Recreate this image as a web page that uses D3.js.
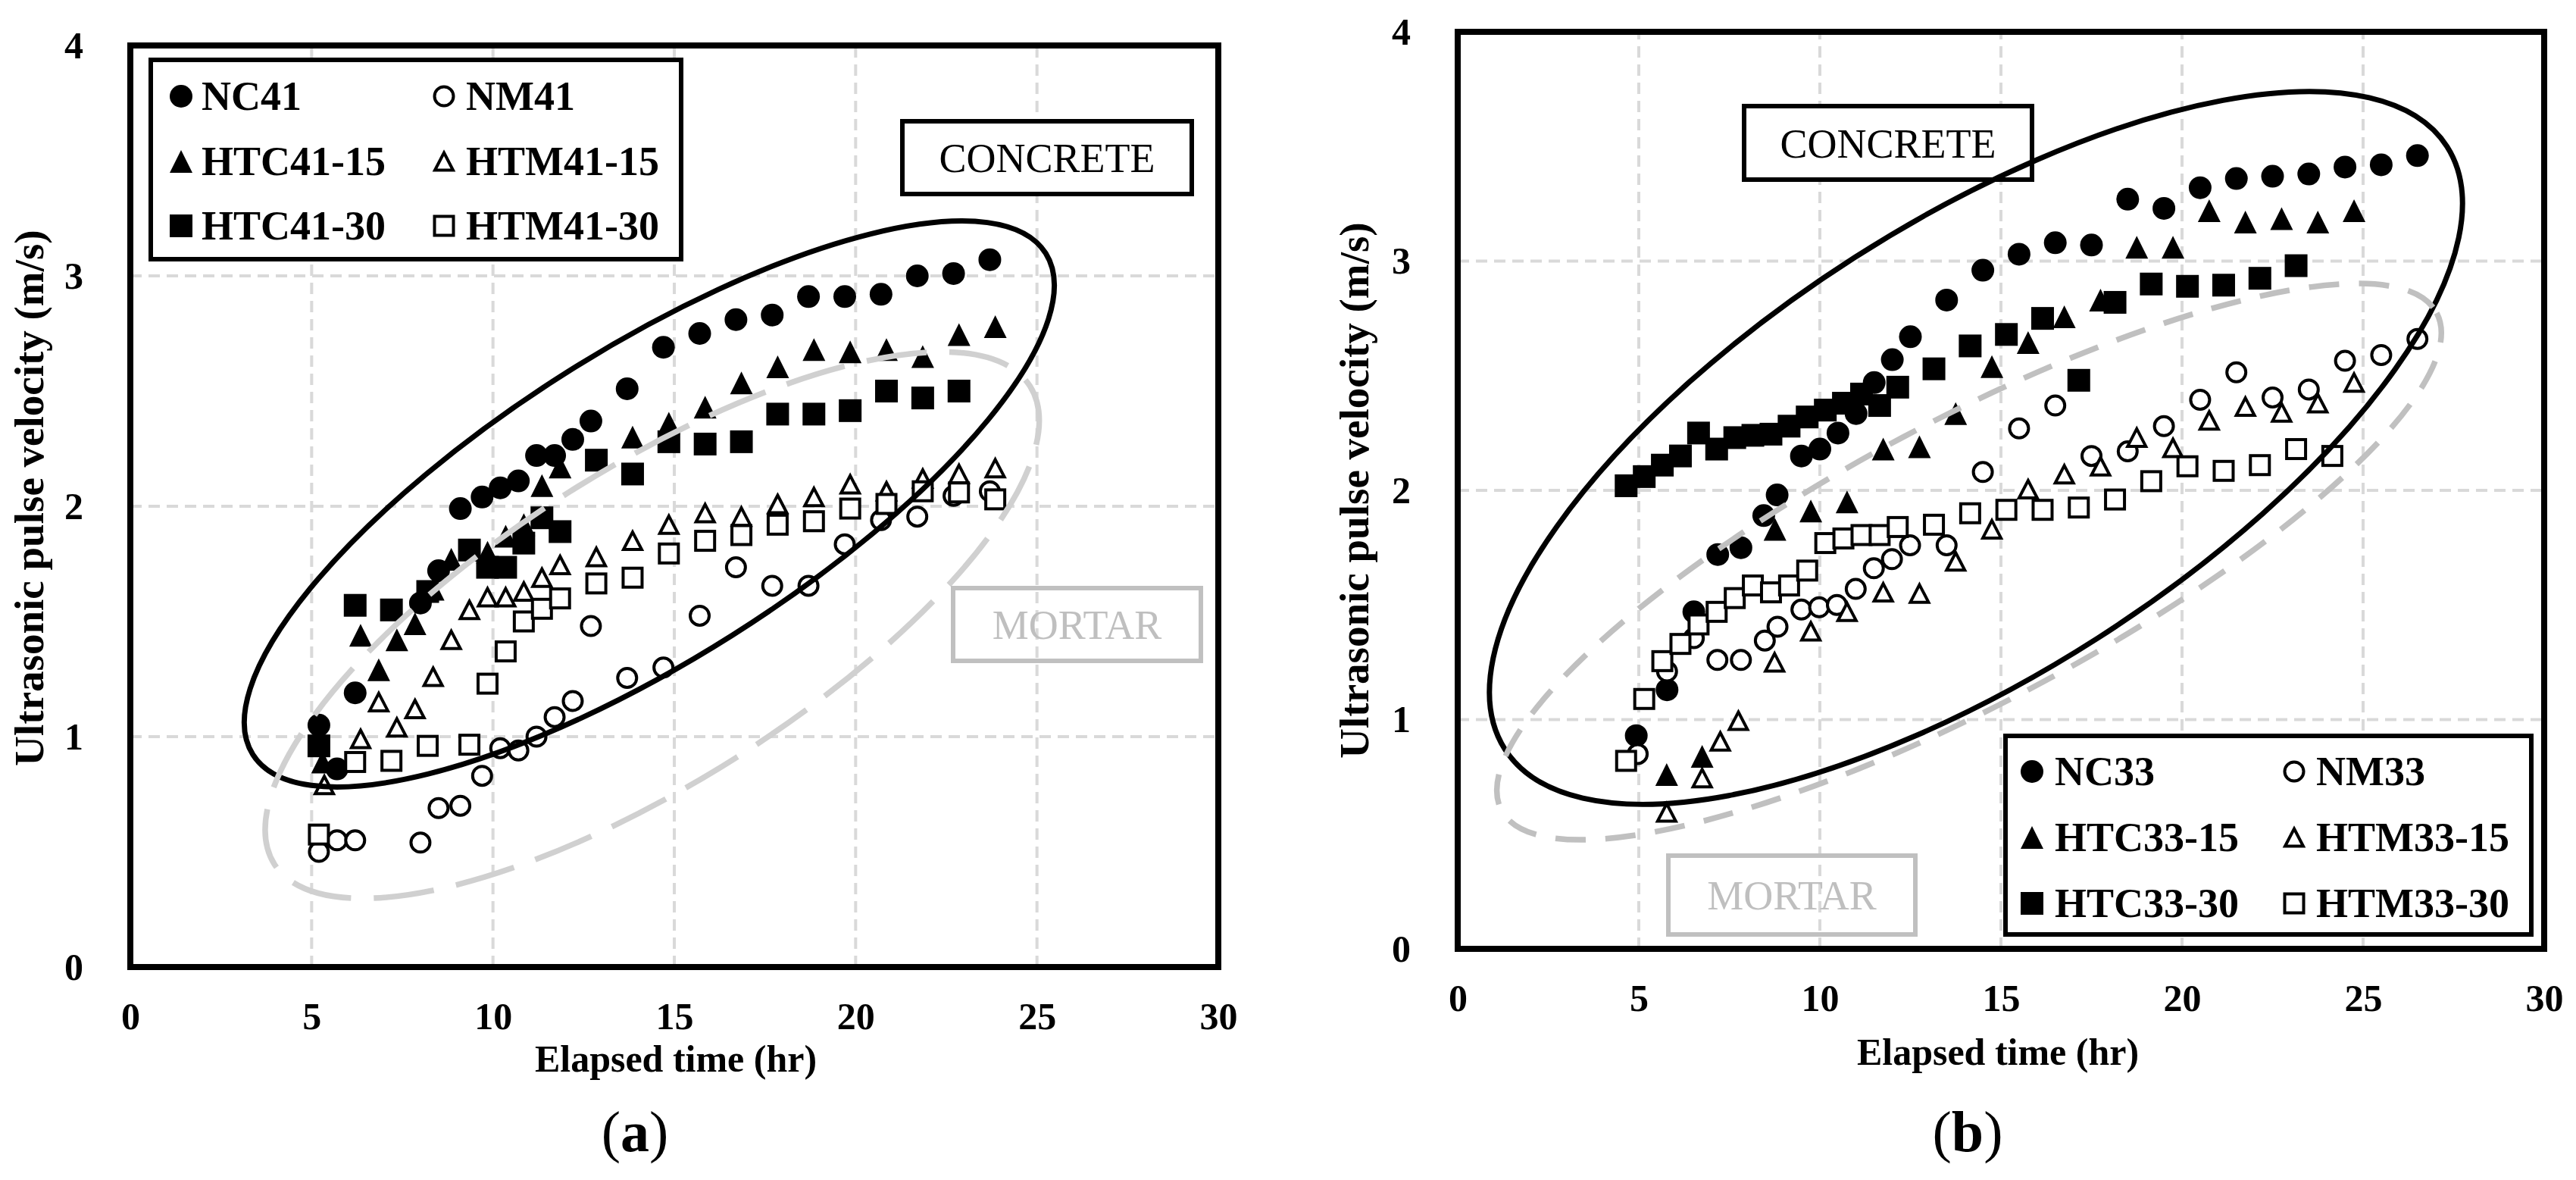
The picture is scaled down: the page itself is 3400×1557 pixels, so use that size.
<!DOCTYPE html>
<html>
<head>
<meta charset="utf-8">
<script src="https://cdn.jsdelivr.net/npm/d3@7"></script>
<style>
  body { margin: 0; background: #fff; }
  svg text { font-family: "Liberation Serif", "Times New Roman", serif; }
</style>
</head>
<body>
<svg id="chart" width="3400" height="1557"></svg>
<script>
// ---- data: [elapsed time (hr), pulse velocity (m/s)] ----
const xTicks = [0, 5, 10, 15, 20, 25, 30];
const yTicks = [0, 1, 2, 3, 4];

// panel (a), w/c 0.41
const nc41 = [[5.2,1.05],[5.7,0.86],[6.2,1.19],[8.0,1.58],[8.5,1.72],[9.1,1.99],[9.7,2.04],[10.2,2.08],[10.7,2.11],[11.2,2.22],[11.7,2.22],[12.2,2.29],[12.7,2.37],[13.7,2.51],[14.7,2.69],[15.7,2.75],[16.7,2.81],[17.7,2.83],[18.7,2.91],[19.7,2.91],[20.7,2.92],[21.7,3.0],[22.7,3.01],[23.7,3.07]];
const nm41 = [[5.2,0.5],[5.7,0.55],[6.2,0.55],[8.0,0.54],[8.5,0.69],[9.1,0.7],[9.7,0.83],[10.2,0.95],[10.7,0.94],[11.2,1.0],[11.7,1.085],[12.2,1.155],[12.7,1.48],[13.7,1.255],[14.7,1.3],[15.7,1.525],[16.7,1.735],[17.7,1.655],[18.7,1.655],[19.7,1.835],[20.7,1.94],[21.7,1.955],[22.7,2.045],[23.7,2.065]];
const htc41_15 = [[5.3,0.89],[6.35,1.44],[6.85,1.29],[7.35,1.42],[7.85,1.49],[8.35,1.64],[8.85,1.77],[9.85,1.8],[10.35,1.87],[10.85,1.92],[11.35,2.09],[11.85,2.17],[13.85,2.3],[14.85,2.36],[15.85,2.43],[16.85,2.535],[17.85,2.605],[18.85,2.68],[19.85,2.67],[20.85,2.68],[21.85,2.65],[22.85,2.745],[23.85,2.78]];
const htm41_15 = [[5.35,0.79],[6.35,0.99],[6.85,1.15],[7.35,1.04],[7.85,1.12],[8.35,1.26],[8.85,1.42],[9.35,1.55],[9.85,1.605],[10.35,1.605],[10.85,1.63],[11.35,1.69],[11.85,1.745],[12.85,1.78],[13.85,1.85],[14.85,1.92],[15.85,1.97],[16.85,1.955],[17.85,2.01],[18.85,2.04],[19.85,2.095],[20.85,2.065],[21.85,2.12],[22.85,2.14],[23.85,2.165]];
const htc41_30 = [[5.2,0.96],[6.2,1.57],[7.2,1.55],[8.2,1.63],[9.35,1.81],[9.85,1.735],[10.35,1.735],[10.85,1.84],[11.35,1.95],[11.85,1.89],[12.85,2.2],[13.85,2.14],[14.85,2.28],[15.85,2.27],[16.85,2.28],[17.85,2.4],[18.85,2.4],[19.85,2.415],[20.85,2.5],[21.85,2.47],[22.85,2.5]];
const htm41_30 = [[5.2,0.575],[6.2,0.89],[7.2,0.895],[8.2,0.96],[9.35,0.965],[9.85,1.23],[10.35,1.37],[10.85,1.5],[11.35,1.555],[11.85,1.6],[12.85,1.665],[13.85,1.69],[14.85,1.795],[15.85,1.85],[16.85,1.875],[17.85,1.92],[18.85,1.935],[19.85,1.99],[20.85,2.01],[21.85,2.065],[22.85,2.06],[23.85,2.03]];

// panel (b), w/c 0.33
const nc33 = [[4.93,0.93],[5.78,1.13],[6.52,1.47],[7.18,1.72],[7.82,1.75],[8.45,1.89],[8.82,1.98],[9.49,2.15],[10.0,2.18],[10.5,2.25],[11.0,2.335],[11.5,2.47],[12.0,2.57],[12.5,2.67],[13.5,2.83],[14.5,2.96],[15.5,3.03],[16.5,3.08],[17.5,3.07],[18.5,3.27],[19.5,3.23],[20.5,3.32],[21.5,3.36],[22.5,3.37],[23.5,3.38],[24.5,3.41],[25.5,3.42],[26.5,3.46]];
const nm33 = [[4.97,0.85],[5.78,1.21],[6.52,1.355],[7.17,1.26],[7.82,1.26],[8.48,1.345],[8.83,1.405],[9.49,1.48],[9.98,1.49],[10.47,1.5],[10.99,1.57],[11.49,1.66],[11.99,1.7],[12.49,1.76],[13.5,1.76],[14.5,2.08],[15.5,2.27],[16.5,2.37],[17.5,2.15],[18.5,2.17],[19.5,2.28],[20.5,2.395],[21.5,2.515],[22.5,2.405],[23.5,2.44],[24.5,2.565],[25.5,2.59],[26.5,2.66]];
const htc33_15 = [[5.77,0.76],[6.75,0.84],[8.76,1.83],[9.75,1.91],[10.75,1.95],[11.75,2.18],[12.75,2.19],[13.75,2.335],[14.75,2.54],[15.75,2.645],[16.75,2.757],[17.75,2.83],[18.75,3.06],[19.75,3.06],[20.75,3.22],[21.75,3.17],[22.75,3.185],[23.75,3.17],[24.75,3.22]];
const htm33_15 = [[5.77,0.595],[6.75,0.745],[7.25,0.905],[7.75,0.995],[8.75,1.25],[9.75,1.385],[10.75,1.47],[11.75,1.555],[12.75,1.55],[13.75,1.69],[14.75,1.83],[15.75,2.005],[16.75,2.07],[17.75,2.105],[18.75,2.23],[19.75,2.185],[20.75,2.305],[21.75,2.365],[22.75,2.34],[23.75,2.38],[24.75,2.47]];
const htc33_30 = [[4.65,2.02],[5.15,2.06],[5.65,2.11],[6.15,2.15],[6.65,2.25],[7.15,2.18],[7.65,2.23],[8.15,2.24],[8.65,2.245],[9.15,2.28],[9.65,2.32],[10.15,2.35],[10.65,2.38],[11.15,2.42],[11.65,2.37],[12.15,2.45],[13.15,2.53],[14.15,2.63],[15.15,2.68],[16.15,2.75],[17.15,2.48],[18.15,2.82],[19.15,2.9],[20.15,2.89],[21.15,2.895],[22.15,2.925],[23.15,2.98]];
const htm33_30 = [[4.65,0.82],[5.15,1.09],[5.65,1.255],[6.15,1.33],[6.65,1.415],[7.15,1.47],[7.65,1.53],[8.15,1.585],[8.65,1.555],[9.15,1.585],[9.65,1.65],[10.15,1.77],[10.65,1.79],[11.15,1.805],[11.65,1.805],[12.15,1.84],[13.15,1.85],[14.15,1.9],[15.15,1.915],[16.15,1.915],[17.15,1.925],[18.15,1.96],[19.15,2.04],[20.15,2.105],[21.15,2.085],[22.15,2.11],[23.15,2.18],[24.15,2.15]];

// series in legend order (row by row)
const seriesA = [
  { name: "NC41",     data: nc41,     shape: "circle",   filled: true },
  { name: "NM41",     data: nm41,     shape: "circle",   filled: false },
  { name: "HTC41-15", data: htc41_15, shape: "triangle", filled: true },
  { name: "HTM41-15", data: htm41_15, shape: "triangle", filled: false },
  { name: "HTC41-30", data: htc41_30, shape: "square",   filled: true },
  { name: "HTM41-30", data: htm41_30, shape: "square",   filled: false }
];
const seriesB = [
  { name: "NC33",     data: nc33,     shape: "circle",   filled: true },
  { name: "NM33",     data: nm33,     shape: "circle",   filled: false },
  { name: "HTC33-15", data: htc33_15, shape: "triangle", filled: true },
  { name: "HTM33-15", data: htm33_15, shape: "triangle", filled: false },
  { name: "HTC33-30", data: htc33_30, shape: "square",   filled: true },
  { name: "HTM33-30", data: htm33_30, shape: "square",   filled: false }
];

// ---- layout ----
const svg = d3.select("#chart");
svg.append("rect").attr("width", 3400).attr("height", 1557).attr("fill", "#fff");

const panels = [
  {
    series: seriesA, tag: "a",
    xr: [172, 1608], yr: [1276, 60],
    legend: { x: 199, y: 79, w: 700, h: 263, rows: [127, 213, 298], cols: [[239, 266], [586, 615]] },
    concrete: { x: 1191, y: 160, w: 382, h: 96 },
    mortar: { x: 1258, y: 776, w: 327, h: 96 },
    ylab: [57, 657], xlab: [892, 1414], tagPos: [838, 1519],
    ellipses: [
      { cx: 14.31, cy: 2.01, rx: 619, ry: 205, rot: -32.3, color: "#000", w: 7, dash: null },
      { cx: 14.39, cy: 1.484, rx: 590, ry: 207, rot: -32.3, color: "#d0d0d0", w: 7.5, dash: "80 30" }
    ]
  },
  {
    series: seriesB, tag: "b",
    xr: [1924, 3358], yr: [1252, 42],
    legend: { x: 2647, y: 971, w: 694, h: 262, rows: [1018, 1105, 1192], cols: [[2682, 2712], [3028, 3057]] },
    concrete: { x: 2302, y: 140, w: 380, h: 97 },
    mortar: { x: 2202, y: 1129, w: 326, h: 104 },
    ylab: [1806, 647], xlab: [2637, 1405], tagPos: [2597, 1519],
    ellipses: [
      { cx: 14.31, cy: 2.185, rx: 738, ry: 298, rot: -32.6, color: "#000", w: 7, dash: null },
      { cx: 14.12, cy: 1.689, rx: 699, ry: 186, rot: -28, color: "#c0c0c0", w: 7.5, dash: "40 26" }
    ]
  }
];

function drawMarker(g, shape, filled, cx, cy) {
  const fill = filled ? "#000" : "#fff";
  const stroke = filled ? "none" : "#000";
  let m;
  if (shape === "circle") {
    m = g.append("circle").attr("cx", cx).attr("cy", cy).attr("r", filled ? 15 : 12.5);
  } else if (shape === "square") {
    const s = filled ? 30 : 25;
    m = g.append("rect").attr("x", cx - s / 2).attr("y", cy - s / 2).attr("width", s).attr("height", s);
  } else {
    const w = filled ? 30 : 24, h = filled ? 30 : 23;
    m = g.append("path")
      .attr("d", `M${cx},${cy - h / 2}L${cx + w / 2},${cy + h / 2}L${cx - w / 2},${cy + h / 2}Z`)
      .attr("stroke-linejoin", "miter");
  }
  m.attr("fill", fill).attr("stroke", stroke).attr("stroke-width", filled ? 0 : 4);
}

function drawPanel(p) {
  const g = svg.append("g");
  const x = d3.scaleLinear().domain([0, 30]).range(p.xr);
  const y = d3.scaleLinear().domain([0, 4]).range(p.yr);

  // gridlines
  g.append("g").selectAll("line").data(xTicks.slice(1, -1)).join("line")
    .attr("x1", d => x(d)).attr("x2", d => x(d)).attr("y1", y(0)).attr("y2", y(4))
    .attr("stroke", "#d9d9d9").attr("stroke-width", 4).attr("stroke-dasharray", "15 9");
  g.append("g").selectAll("line").data(yTicks.slice(1, -1)).join("line")
    .attr("y1", d => y(d)).attr("y2", d => y(d)).attr("x1", x(0)).attr("x2", x(30))
    .attr("stroke", "#d9d9d9").attr("stroke-width", 4).attr("stroke-dasharray", "15 9");

  // axes tick labels
  const ax = g.append("g").attr("transform", `translate(0,${y(0)})`)
    .call(d3.axisBottom(x).tickValues(xTicks).tickFormat(d3.format("d")).tickSize(0).tickPadding(46));
  const ay = g.append("g").attr("transform", `translate(${x(0)},0)`)
    .call(d3.axisLeft(y).tickValues(yTicks).tickFormat(d3.format("d")).tickSize(0).tickPadding(62));
  [ax, ay].forEach(a => {
    a.select(".domain").remove();
    a.attr("font-size", 50).attr("font-weight", "bold")
      .attr("font-family", "'Liberation Serif', 'Times New Roman', serif");
    a.selectAll("text").attr("fill", "#000");
  });

  // concrete label box (white fill)
  const c = p.concrete;
  g.append("rect").attr("x", c.x).attr("y", c.y).attr("width", c.w).attr("height", c.h)
    .attr("fill", "#fff").attr("stroke", "#000").attr("stroke-width", 6);
  g.append("text").attr("x", c.x + c.w / 2).attr("y", c.y + c.h / 2 + 19)
    .attr("text-anchor", "middle").attr("font-size", 54).text("CONCRETE");

  // markers
  const mg = g.append("g");
  p.series.forEach(s => {
    s.data.forEach(d => drawMarker(mg, s.shape, s.filled, x(d[0]), y(d[1])));
  });

  // ellipses
  p.ellipses.forEach(e => {
    const ex = x(e.cx), ey = y(e.cy);
    g.append("ellipse").attr("cx", ex).attr("cy", ey).attr("rx", e.rx).attr("ry", e.ry)
      .attr("transform", `rotate(${e.rot},${ex},${ey})`)
      .attr("fill", "none").attr("stroke", e.color).attr("stroke-width", e.w)
      .attr("stroke-dasharray", e.dash);
  });

  // mortar label (no fill)
  const m = p.mortar;
  g.append("rect").attr("x", m.x).attr("y", m.y).attr("width", m.w).attr("height", m.h)
    .attr("fill", "none").attr("stroke", "#c0c0c0").attr("stroke-width", 6);
  g.append("text").attr("x", m.x + m.w / 2).attr("y", m.y + m.h / 2 + 19)
    .attr("text-anchor", "middle").attr("font-size", 54).attr("fill", "#bfbfbf").text("MORTAR");

  // legend
  const L = p.legend;
  g.append("rect").attr("x", L.x).attr("y", L.y).attr("width", L.w).attr("height", L.h)
    .attr("fill", "#fff").attr("stroke", "#000").attr("stroke-width", 6);
  p.series.forEach((s, i) => {
    const row = L.rows[Math.floor(i / 2)], col = L.cols[i % 2];
    drawMarker(g, s.shape, s.filled, col[0], row);
    g.append("text").attr("x", col[1]).attr("y", row + 18)
      .attr("font-size", 54).attr("font-weight", "bold").text(s.name);
  });

  // frame
  g.append("rect").attr("x", x(0)).attr("y", y(4))
    .attr("width", x(30) - x(0)).attr("height", y(0) - y(4))
    .attr("fill", "none").attr("stroke", "#000").attr("stroke-width", 8);

  // axis titles
  g.append("text").attr("transform", `translate(${p.ylab[0]},${p.ylab[1]}) rotate(-90)`)
    .attr("text-anchor", "middle").attr("font-size", 55).attr("font-weight", "bold")
    .text("Ultrasonic pulse velocity (m/s)");
  g.append("text").attr("x", p.xlab[0]).attr("y", p.xlab[1])
    .attr("text-anchor", "middle").attr("font-size", 50).attr("font-weight", "bold")
    .text("Elapsed time (hr)");

  // panel tag
  const t = g.append("text").attr("x", p.tagPos[0]).attr("y", p.tagPos[1])
    .attr("text-anchor", "middle").attr("font-size", 76);
  t.append("tspan").text("(");
  t.append("tspan").attr("font-weight", "bold").text(p.tag);
  t.append("tspan").text(")");
}

panels.forEach(drawPanel);
</script>
</body>
</html>
